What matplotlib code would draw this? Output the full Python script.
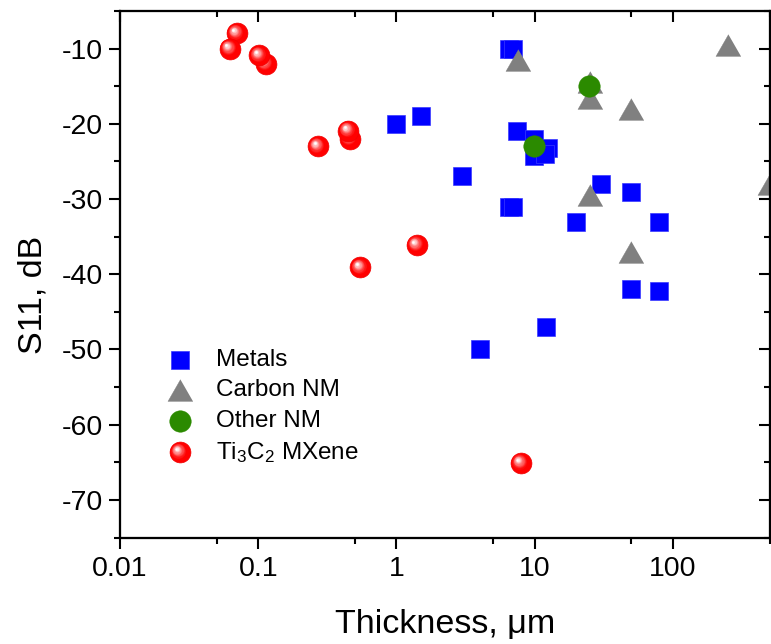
import matplotlib
matplotlib.use("Agg")
import matplotlib.pyplot as plt
import matplotlib.transforms as mtransforms
from matplotlib.ticker import LogLocator, MultipleLocator, FuncFormatter, NullFormatter

plt.rcParams['font.family'] = ['Liberation Sans', 'DejaVu Sans']
plt.rcParams['mathtext.fontset'] = 'custom'
plt.rcParams['mathtext.rm'] = 'Liberation Sans'
plt.rcParams['mathtext.it'] = 'Liberation Sans:italic'
plt.rcParams['mathtext.default'] = 'regular'
plt.rcParams['axes.unicode_minus'] = False

# Shielding data: thickness (um) and S11 (dB)
metals_t = [1.0, 1.5, 3.0, 4.0, 6.5, 7.0, 6.5, 7.0, 7.45, 9.9, 12.4, 9.9, 11.9, 12.0, 20, 30, 50, 80, 50, 80]
metals_s = [-20, -19, -27, -50, -10, -10, -31, -31, -21, -22, -23.2, -24.3, -24, -47, -33, -28, -29, -33, -42, -42.2]

carbon_t = [7.6, 250, 25, 25, 50, 25, 50, 500]
carbon_s = [-11.5, -9.5, -14.4, -16.6, -18, -29.5, -37, -28]

other_t = [9.9, 24.6]
other_s = [-23, -15]

mxene_t = [0.0698, 0.0621, 0.113, 0.1017, 0.27, 0.46, 0.448, 0.547, 1.40, 7.94]
mxene_s = [-7.96, -10, -12, -10.9, -23, -22, -20.9, -39.1, -36.1, -65.1]

labels = ['Metals', 'Carbon NM', 'Other NM', 'Ti$_3$C$_2$ MXene']

BLUE = '#0000ff'
GRAY = '#808080'
GREEN = '#2b8a00'
RED = '#ff0000'

TRI = [(0, 0.87), (-1, -0.87), (1, -0.87)]

fig = plt.figure(figsize=(7.71, 6.44), dpi=100)
L, R, T, B = 120.0, 769.5, 11.0, 537.5
ax = fig.add_axes([L / 771, 1 - B / 644, (R - L) / 771, (B - T) / 644])


def draw_sphere(ax, x, y, ms, z, transform):
    """Red glossy sphere: base disc plus layered highlight toward the upper left."""
    ax.plot([x], [y], 'o', ms=ms, mfc=RED, mec='#f00000', mew=0.5,
            transform=transform, zorder=z, clip_on=False)
    n = 14
    for k in range(n):
        t = k / (n - 1)
        frac = 0.78 - 0.68 * t
        w = t ** 1.3
        col = (1.0, w, w)
        off = ms * 0.16 * (0.4 + 0.6 * t)
        tr = mtransforms.offset_copy(transform, fig=ax.figure, x=-off, y=off, units='points')
        ax.plot([x], [y], 'o', ms=ms * frac, mfc=col, mec='none', transform=tr,
                zorder=z + 0.001 * (k + 1), clip_on=False)


ax.plot(metals_t, metals_s, 's', ms=13.6, mfc=BLUE, mec='#3a3aff', mew=0.5, zorder=3, ls='none')
ax.plot(carbon_t, carbon_s, marker=TRI, ms=18, mfc=GRAY, mec=GRAY, mew=0.3, zorder=4,
        ls='none', clip_on=False)
ax.plot(other_t, other_s, 'o', ms=15.5, mfc=GREEN, mec=GREEN, mew=0.3, zorder=5, ls='none')
for i, (x, y) in enumerate(zip(mxene_t, mxene_s)):
    draw_sphere(ax, x, y, 15.0, 10 + i, ax.transData)

ax.set_xscale('log')
ax.set_xlim(0.01, 500)
ax.set_ylim(-75, -5)

ax.xaxis.set_major_locator(LogLocator(base=10, subs=(1.0,)))
ax.xaxis.set_minor_locator(LogLocator(base=10, subs=(5.0,)))
ax.xaxis.set_major_formatter(FuncFormatter(lambda v, p: f'{v:g}'))
ax.xaxis.set_minor_formatter(NullFormatter())
ax.yaxis.set_major_locator(MultipleLocator(10))
ax.yaxis.set_minor_locator(MultipleLocator(5))

for sp in ax.spines.values():
    sp.set_linewidth(1.5)
    sp.set_zorder(30)

ax.tick_params(which='major', direction='out', length=8, width=1.5, labelsize=20.5)
ax.tick_params(axis='x', which='major', pad=5)
ax.tick_params(axis='y', which='major', pad=4)
ax.tick_params(which='minor', direction='out', length=4.3, width=1.5)

# inward ticks on the top and right edges
axt = ax.twiny()
axt.set_xscale('log')
axt.set_xlim(ax.get_xlim())
axt.xaxis.set_major_locator(LogLocator(base=10, subs=(1.0,)))
axt.xaxis.set_minor_locator(LogLocator(base=10, subs=(5.0,)))
axt.tick_params(which='major', direction='in', length=8, width=1.5, labeltop=False)
axt.tick_params(which='minor', direction='in', length=4.3, width=1.5)
axr = ax.twinx()
axr.set_ylim(ax.get_ylim())
axr.yaxis.set_major_locator(MultipleLocator(10))
axr.yaxis.set_minor_locator(MultipleLocator(5))
axr.tick_params(which='major', direction='in', length=8, width=1.5, labelright=False)
axr.tick_params(which='minor', direction='in', length=4.3, width=1.5)
for a in (axt, axr):
    for sp in a.spines.values():
        sp.set_linewidth(1.5)

ax.set_xlabel('Thickness, \u03bcm', fontsize=24.5, va='center')
ax.set_ylabel('S11, dB', fontsize=24.5, va='center')
ax.xaxis.set_label_coords(0.5, -0.166)
ax.yaxis.set_label_coords(-0.134, 0.46)

# legend
lx, tx = 0.092, 0.148
ly = [0.337, 0.281, 0.222, 0.162]
ax.plot([lx], [ly[0]], 's', ms=13.6, mfc=BLUE, mec='#3a3aff', mew=0.5, transform=ax.transAxes, zorder=20)
ax.plot([lx], [ly[1]], marker=TRI, ms=18, mfc=GRAY, mec=GRAY, mew=0.3, transform=ax.transAxes, zorder=20)
ax.plot([lx], [ly[2]], 'o', ms=15.5, mfc=GREEN, mec=GREEN, mew=0.3, transform=ax.transAxes, zorder=20)
draw_sphere(ax, lx, ly[3], 15.0, 21, ax.transAxes)
for yy, lab in zip(ly, labels):
    ax.text(tx, yy, lab, transform=ax.transAxes, fontsize=17.5, va='center', ha='left')

fig.savefig('out.png', dpi=100)
